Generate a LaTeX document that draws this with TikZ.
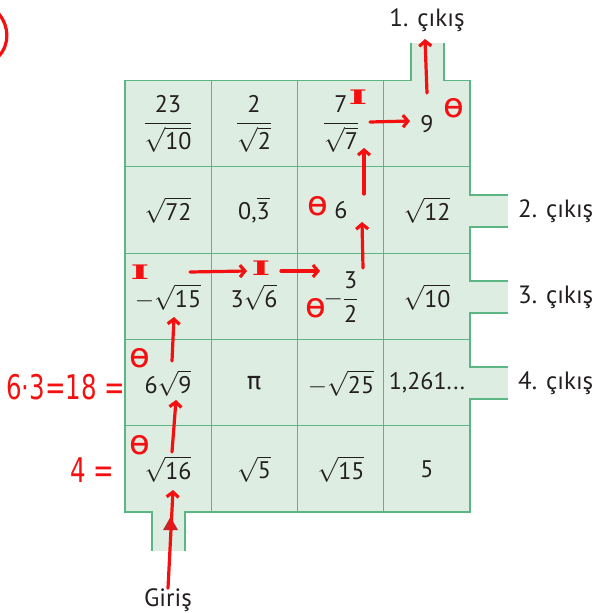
\documentclass[tikz,border=0pt]{standalone}
\usepackage{amsmath}
\usepackage{graphicx}
\usepackage{fontspec}
\setmainfont{PT Sans}
\newfontfamily\handfont{DejaVu Sans}
\newfontfamily\handserif{DejaVu Serif}
\newfontfamily\greekfont{DejaVu Sans}
\usetikzlibrary{arrows.meta}
\definecolor{gridfill}{HTML}{DDEDE1}
\definecolor{gridline}{HTML}{5CB683}
\definecolor{inkred}{HTML}{F41010}
\definecolor{tipred}{HTML}{C8242B}
\definecolor{numtext}{HTML}{231F20}
\newcommand{\kok}[1]{\sqrt{\text{#1}}}

\begin{document}
\begin{tikzpicture}[x=1pt, y=-1pt,
    cell/.style={font=\fontsize{24}{27}\selectfont, text=numtext, inner sep=0pt},
    exitlbl/.style={font=\fontsize{25}{28}\selectfont, text=numtext, inner sep=0pt},
    pen/.style={inkred, line width=3.2pt, line cap=round},
    penarr/.style={pen, -{Straight Barb[length=5pt, width=12pt]}},
    markq/.style={inkred, font=\handfont\fontsize{34}{36}\selectfont, inner sep=0pt},
    marki/.style={inkred, font=\handserif\bfseries\fontsize{20}{22}\selectfont, inner sep=0pt},
    handtxt/.style={inkred, font=\handfont\fontsize{34}{36}\selectfont, inner sep=0pt}
  ]
    \useasboundingbox (0,0) rectangle (598,613);

    % Board
    \fill[gridfill] (125,80.5) rectangle (470,512);
    \fill[gridfill] (411,43) rectangle (444,81);
    \fill[gridfill] (152,511) rectangle (185,551);
    \foreach \y in {195,281,367}
      \fill[gridfill] (469,\y) rectangle (508,\y+32);
    \foreach \x in {211.25,297.5,383.75}
      \draw[gridline, line width=1.2pt] (\x,80.5) -- (\x,512);
    \foreach \y in {166.8,253.1,339.4,425.7}
      \draw[gridline, line width=1.2pt] (125,\y) -- (470,\y);
    \draw[gridline, line width=1.2pt]
      (411,43) -- (411,80.5) -- (125,80.5) -- (125,512) -- (152,512) -- (152,551)
      (185,551) -- (185,512) -- (470,512) -- (470,399) -- (508,399)
      (508,367) -- (470,367) -- (470,313) -- (508,313)
      (508,281) -- (470,281) -- (470,227) -- (508,227)
      (508,195) -- (470,195) -- (470,80.5) -- (444,80.5) -- (444,43);
    \fill[tipred] (163,530) -- (178,530) -- (170.5,517) -- cycle;

    % Numbers
    \node[cell] (r1c1) at (168,124) {$\dfrac{\text{23}}{\kok{10}}$};
    \node[cell] (r1c2) at (254,124) {$\dfrac{\text{2}}{\kok{2}}$};
    \node[cell] (r1c3) at (341,124) {$\dfrac{\text{7}}{\kok{7}}$};
    \node[cell] (r1c4) at (427,124) {9};
    \node[cell] (r2c1) at (168,210) {$\kok{72}$};
    \node[cell] (r2c2) at (254,210) {$\text{0,}\overline{\text{3}}$};
    \node[cell] (r2c3) at (341,210) {6};
    \node[cell] (r2c4) at (427,210) {$\kok{12}$};
    \node[cell] (r3c1) at (168,297) {$-\kok{15}$};
    \node[cell] (r3c2) at (254,297) {$\text{3}\kok{6}$};
    \node[cell] (r3c3) at (341,297) {$-\dfrac{\text{3}}{\text{2}}$};
    \node[cell] (r3c4) at (427,297) {$\kok{10}$};
    \node[cell] (r4c1) at (168,383) {$\text{6}\kok{9}$};
    \node[cell] (r4c2) at (254,383) {\greekfont π};
    \node[cell] (r4c3) at (341,383) {$-\kok{25}$};
    \node[cell] (r4c4) at (427,383) {1,261...};
    \node[cell] (r5c1) at (168,469) {$\kok{16}$};
    \node[cell] (r5c2) at (254,469) {$\kok{5}$};
    \node[cell] (r5c3) at (341,469) {$\kok{15}$};
    \node[cell] (r5c4) at (427,469) {5};

    % Exits
    \node[exitlbl] (exit1) at (427,20) {1. çıkış};
    \node[exitlbl, anchor=west] (exit2) at (518,211) {2. çıkış};
    \node[exitlbl, anchor=west] (exit3) at (518,297) {3. çıkış};
    \node[exitlbl, anchor=west] (exit4) at (518,383) {4. çıkış};
    \node[exitlbl] (entry) at (168,600) {Giriş};

    % Handwritten path
    \coordinate (p1) at (173,490);
    \coordinate (p2a) at (172,452);
    \coordinate (p2b) at (176,400);
    \coordinate (p3a) at (172,361);
    \coordinate (p3b) at (174,317);
    \coordinate (p4a) at (190,272);
    \coordinate (p4b) at (247,271);
    \coordinate (p5a) at (281,271);
    \coordinate (p5b) at (320,271);
    \coordinate (p6a) at (363,268);
    \coordinate (p6b) at (362,222);
    \coordinate (p7a) at (364,194);
    \coordinate (p7b) at (364,148);
    \coordinate (p8a) at (370,122);
    \coordinate (p8b) at (410,121);
    \coordinate (p9a) at (427,93);
    \coordinate (p9b) at (425,39);
    \draw[penarr] (entry.north) -- (p1);
    \draw[penarr] (p2a) -- (p2b);
    \draw[penarr] (p3a) -- (p3b);
    \draw[penarr] (p4a) -- (p4b);
    \draw[penarr] (p5a) -- (p5b);
    \draw[penarr] (p6a) -- (p6b);
    \draw[penarr] (p7a) -- (p7b);
    \draw[penarr] (p8a) -- (p8b);
    \draw[penarr] (p9a) -- (p9b);

    \node[marki] (i1) at (140,272) {\scalebox{2}[1]{I}};
    \node[marki] (i2) at (261,268) {\scalebox{2}[1]{I}};
    \node[marki] (i3) at (358,97) {\scalebox{2}[1]{I}};
    \node[markq] (q1) at (454,108) {ө};
    \node[markq] (q2) at (318,206) {ө};
    \node[markq] (q3) at (316,308) {ө};
    \node[markq] (q4) at (140,358) {ө};
    \node[markq] (q5) at (140,445) {ө};
    \node[handtxt, anchor=west] (calc1) at (6,387) {\scalebox{0.72}[1]{6·3=18 =}};
    \node[handtxt, anchor=west] (calc2) at (70,470) {\scalebox{0.72}[1]{4 =}};
    \draw[pen] (-1,14) .. controls (9,26) and (10,44) .. (-1,56);
  \end{tikzpicture}
\end{document}
